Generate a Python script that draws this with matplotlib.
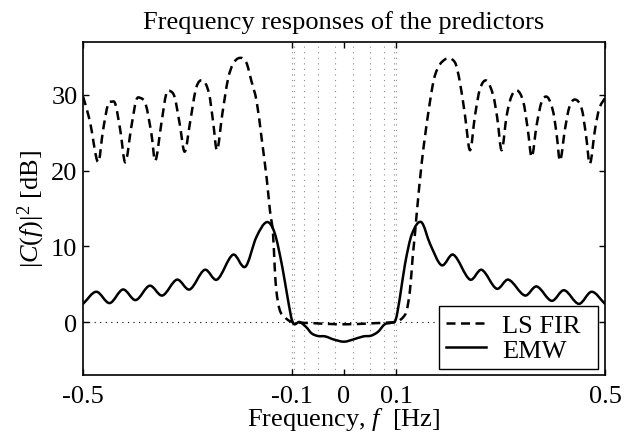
import numpy as np
import matplotlib
matplotlib.use('Agg')
import matplotlib.pyplot as plt
from matplotlib.path import Path
from matplotlib.patches import PathPatch
from matplotlib.lines import Line2D

# ---------------- data ----------------
ls_fir_f = [-0.500, -0.487, -0.471, -0.4617, -0.452, -0.4457, -0.438, -0.4285, -0.419,
            -0.4074, -0.398, -0.390, -0.380, -0.369, -0.3615, -0.350, -0.3404, -0.3327,
            -0.3244, -0.3148, -0.3052, -0.2944, -0.283, -0.270, -0.2586, -0.251, -0.2433,
            -0.2331, -0.2222, -0.2126, -0.1998, -0.1872, -0.1776, -0.1672, -0.1577, -0.148,
            -0.1418, -0.136, -0.1328, -0.1297, -0.1232, -0.1136, -0.104, -0.090, -0.060,
            -0.030, 0.000, 0.030, 0.060, 0.090, 0.104, 0.1136, 0.120, 0.1264, 0.1316, 0.136,
            0.139, 0.149, 0.1616, 0.1743, 0.1935, 0.2126, 0.222, 0.2318, 0.2414, 0.251,
            0.2605, 0.273, 0.286, 0.2937, 0.302, 0.3117, 0.3213, 0.332, 0.3435, 0.352,
            0.3596, 0.369, 0.3787, 0.390, 0.401, 0.4075, 0.4138, 0.4234, 0.4317, 0.4425,
            0.4553, 0.4636, 0.471, 0.481, 0.489, 0.500]
ls_fir_db = [29.8, 26.6, 21.1, 25.3, 28.8, 29.1, 28.8, 25.3, 21.1,
             25.8, 29.3, 29.6, 28.8, 24.9, 21.3, 26.2, 30.2, 30.5,
             29.7, 26.2, 22.5, 26.6, 31.0, 31.9, 30.2, 26.6, 22.7,
             27.5, 32.1, 34.1, 34.9, 34.3, 31.9, 29.1, 24.2, 18.9,
             14.7, 11.7, 7.3, 4.2, 1.6, 0.66, 0.13, -0.05, -0.15,
             -0.25, -0.3, -0.25, -0.15, -0.05, 0.13, 0.66, 1.5, 4.2, 8.6, 11.7,
             14.1, 21.1, 27.7, 32.6, 34.7, 34.3, 31.7, 27.3, 22.7, 27.3,
             30.8, 31.9, 29.9, 26.9, 22.7, 27.3, 29.9, 30.6, 29.1, 25.5,
             21.8, 26.0, 29.1, 29.7, 27.7, 24.7, 21.3, 25.5, 28.4, 29.4,
             28.2, 24.7, 20.9, 25.5, 28.2, 29.6]

emw_f = [-0.500, -0.4745, -0.449, -0.4234, -0.399, -0.3723, -0.348, -0.320, -0.2957,
         -0.2669, -0.2433, -0.2126, -0.189, -0.168, -0.148, -0.133, -0.118, -0.107,
         -0.098, -0.085, -0.072, -0.062, -0.050, -0.036, -0.020, 0.000, 0.018, 0.037,
         0.052, 0.065, 0.078, 0.090, 0.099, 0.107, 0.117, 0.130, 0.148, 0.165, 0.187,
         0.2094, 0.2414, 0.2637, 0.2925, 0.3148, 0.3467, 0.369, 0.3979, 0.4215, 0.450,
         0.4745, 0.500]
emw_db = [2.4, 4.0, 2.5, 4.3, 2.9, 4.8, 3.5, 5.6, 4.3,
          6.9, 5.6, 8.9, 7.3, 11.2, 13.2, 11.8, 7.2, 2.8,
          -0.1, 0.0, -0.7, -1.5, -1.85, -1.9, -2.3, -2.6, -2.3, -1.9,
          -1.8, -1.3, -0.3, -0.1, 0.3, 3.2, 7.7, 11.6, 13.2, 10.3, 7.5,
          8.9, 5.6, 6.9, 4.4, 5.6, 3.5, 4.7, 2.8, 4.2, 2.4,
          4.0, 2.4]

grid_f = [-0.1, -0.096, -0.077, -0.05, -0.017, 0.017, 0.05, 0.077, 0.096, 0.1]
xticks = [-0.5, -0.1, 0.0, 0.1, 0.5]
xticklabels = ['-0.5', '-0.1', '0', '0.1', '0.5']
yticks = [0, 10, 20, 30]
yticklabels = ['0', '10', '20', '30']
series_labels = ['LS FIR', 'EMW']

# ---------------- style ----------------
plt.rcParams['font.family'] = ['Liberation Serif', 'DejaVu Serif']
plt.rcParams['mathtext.fontset'] = 'custom'
plt.rcParams['mathtext.rm'] = 'Liberation Serif'
plt.rcParams['mathtext.it'] = 'Liberation Serif:italic'
plt.rcParams['axes.unicode_minus'] = False

FS = 19


def smooth_path(x, y):
    """Cubic Hermite (Bezier) path through the given points."""
    x = np.asarray(x, float)
    y = np.asarray(y, float)
    n = len(x)
    m = np.zeros(n)
    m[0] = (y[1] - y[0]) / (x[1] - x[0])
    m[-1] = (y[-1] - y[-2]) / (x[-1] - x[-2])
    for i in range(1, n - 1):
        m[i] = (y[i + 1] - y[i - 1]) / (x[i + 1] - x[i - 1])
    verts = [(x[0], y[0])]
    codes = [Path.MOVETO]
    for i in range(n - 1):
        h = x[i + 1] - x[i]
        verts += [(x[i] + h / 3, y[i] + m[i] * h / 3),
                  (x[i + 1] - h / 3, y[i + 1] - m[i + 1] * h / 3),
                  (x[i + 1], y[i + 1])]
        codes += [Path.CURVE4] * 3
    return Path(verts, codes)


fig = plt.figure(figsize=(6.34, 4.39), dpi=100)
ax = fig.add_axes([83 / 634, 1 - 376 / 439, (605 - 83) / 634, (376 - 43) / 439])

ax.set_xlim(-0.5, 0.5)
ax.set_ylim(-7, 37)

for f in grid_f:
    ax.axvline(f, color='0.55', lw=0.8, ls=(0, (1, 4)), zorder=1)
ax.axhline(0, color='k', lw=0.8, ls=(0, (1, 4)), zorder=1)

LW = 1.8
DASH = (0, (3.6, 2.2))
p1 = PathPatch(smooth_path(ls_fir_f, ls_fir_db), fill=False, edgecolor='k',
               lw=LW, linestyle=DASH, transform=ax.transData, zorder=3,
               capstyle='butt', joinstyle='round')
p2 = PathPatch(smooth_path(emw_f, emw_db), fill=False, edgecolor='k',
               lw=LW, linestyle='-', transform=ax.transData, zorder=3,
               joinstyle='round')
ax.add_patch(p1)
ax.add_patch(p2)

handles = [Line2D([], [], color='k', lw=LW, ls=DASH),
           Line2D([], [], color='k', lw=LW, ls='-')]
leg = ax.legend(handles, series_labels, loc='lower left', fontsize=FS,
                bbox_to_anchor=((439 - 83) / 522, (376 - 370) / 333, 159 / 522, 0.19),
                mode='expand', borderaxespad=0,
                frameon=True, fancybox=False, framealpha=1, edgecolor='k',
                handlelength=1.5, handletextpad=0.6,
                borderpad=0.28, labelspacing=0.04)
leg.get_frame().set_linewidth(1.0)
leg.set_zorder(5)

ax.set_xticks(xticks)
ax.set_xticklabels(xticklabels)
ax.set_yticks(yticks)
ax.set_yticklabels(yticklabels)
ax.tick_params(direction='in', length=4, width=1.0, top=True, right=True,
               labelsize=FS, colors='k')
ax.tick_params(axis='x', pad=7)
ax.tick_params(axis='y', pad=4)
for s in ax.spines.values():
    s.set_linewidth(1.2)

ax.set_xlabel('Frequency, $f$  [Hz]', fontsize=FS, labelpad=-1)
ax.set_ylabel('$|C(f)|^2$ [dB]', fontsize=FS, labelpad=3)
ax.set_title('Frequency responses of the predictors', fontsize=FS, pad=10)

fig.savefig('out.png', dpi=100)
